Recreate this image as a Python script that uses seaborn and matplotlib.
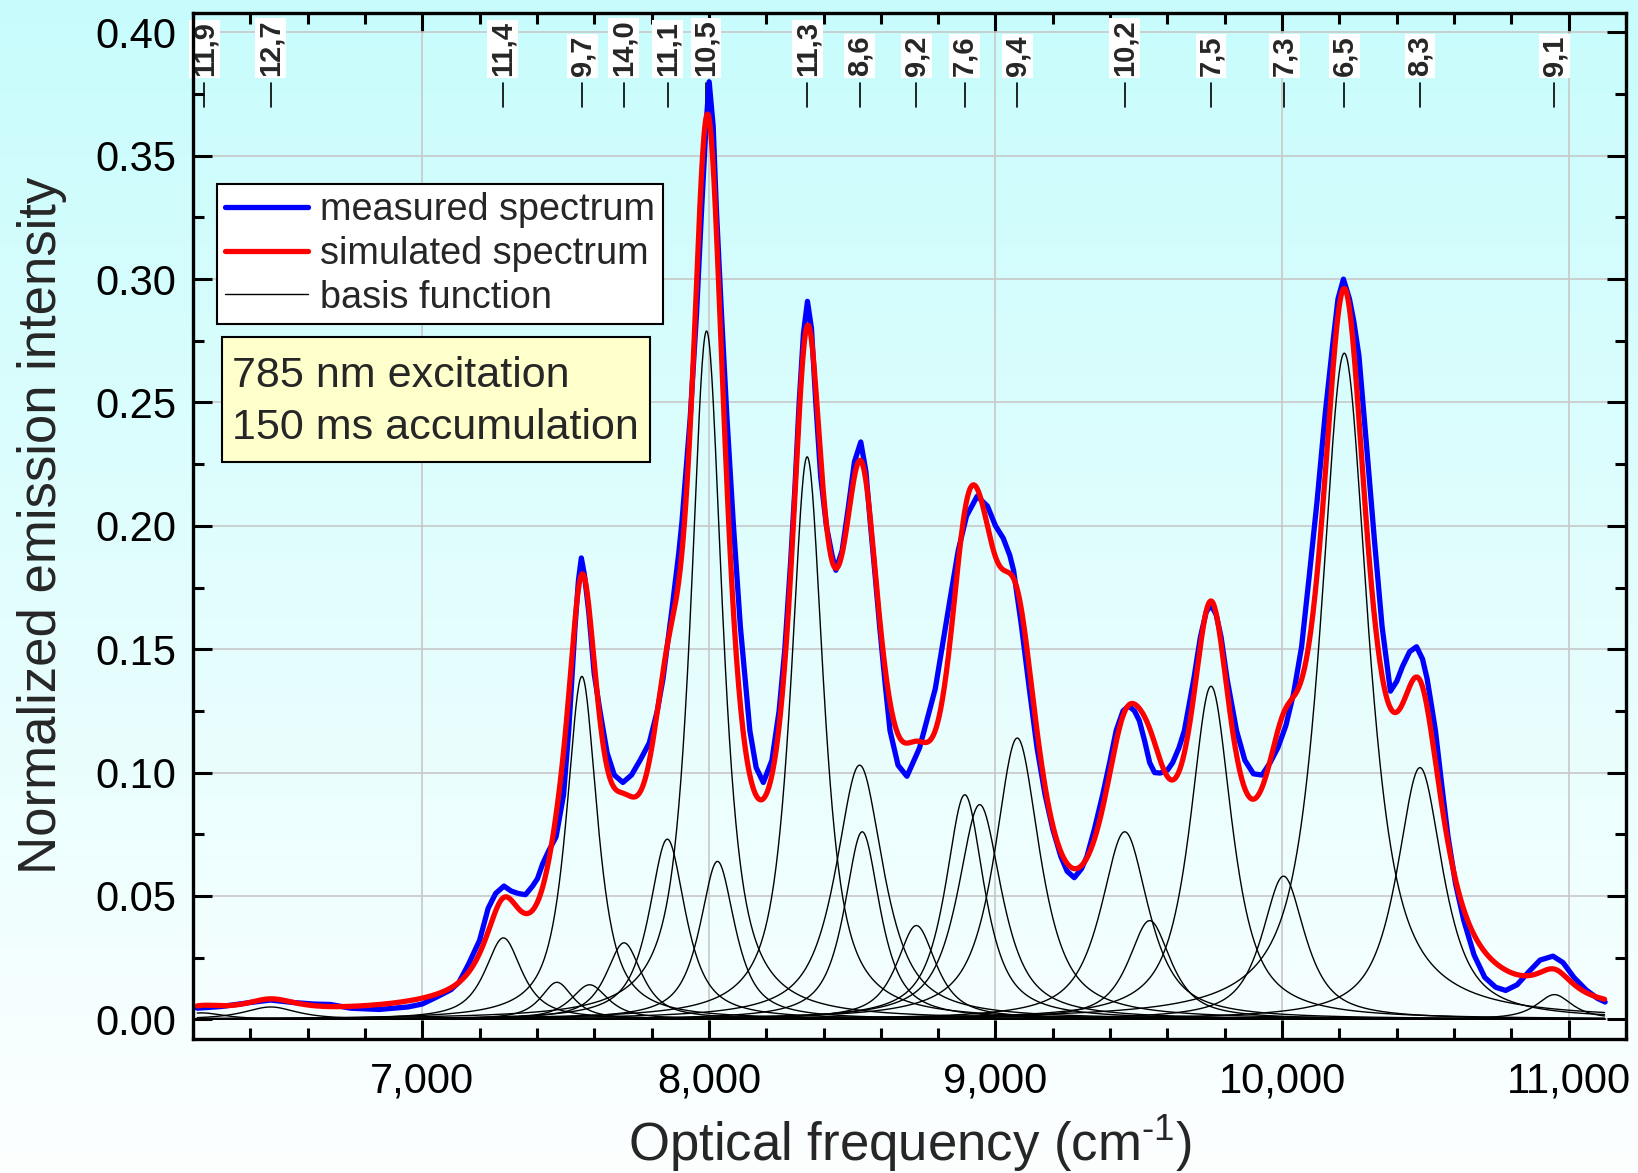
import numpy as np
import pandas as pd
import matplotlib
matplotlib.use("Agg")
import matplotlib.pyplot as plt
from matplotlib.colors import LinearSegmentedColormap
from matplotlib.lines import Line2D
from matplotlib.patches import Rectangle
from matplotlib.ticker import MultipleLocator, FuncFormatter
import seaborn as sns

# chirality labels along the top (n,m) and their positions (cm-1)
chirality_labels = ["11,9", "12,7", "11,4", "9,7", "14,0", "11,1", "10,5", "11,3", "8,6",
                    "9,2", "7,6", "9,4", "10,2", "7,5", "7,3", "6,5", "8,3", "9,1"]
chirality_pos = [6240, 6471, 7280, 7559, 7703, 7856, 7990, 8343, 8527,
                 8724, 8892, 9076, 9451, 9752, 10007, 10217, 10481, 10950]

# basis functions (pseudo-Voigt): centre (cm-1), height, FWHM (cm-1)
basis_center = [6230, 6471, 7283, 7470, 7557, 7584, 7704, 7855, 7992, 8030, 8343, 8526,
                8535, 8724, 8893, 8945, 9076, 9451, 9538, 9752, 10005, 10217, 10481, 10950]
basis_height = [0.0026, 0.0050, 0.033, 0.015, 0.139, 0.014, 0.031, 0.073, 0.279, 0.064,
                0.228, 0.103, 0.076, 0.038, 0.091, 0.087, 0.114, 0.076, 0.040, 0.135,
                0.058, 0.270, 0.102, 0.010]
basis_fwhm = [190, 220, 155, 135, 130, 155, 150, 153, 134, 147, 138, 200,
              150, 165, 163, 185, 190, 200, 178, 175, 180, 200, 192, 150]
lorentz_share = 0.85

# measured spectrum
measured_x = [6215, 6300, 6400, 6470, 6550, 6620, 6680, 6750, 6850, 6950, 7000, 7050, 7100,
              7128, 7160, 7200, 7230, 7256, 7285, 7310, 7335, 7360, 7385, 7402, 7420, 7440,
              7467, 7493, 7511, 7533, 7545, 7555, 7566, 7581, 7600, 7620, 7645, 7670, 7700,
              7730, 7760, 7792, 7820, 7840, 7870, 7895, 7906, 7935, 7957, 7975, 7990, 8001,
              8015, 8026, 8044, 8063, 8085, 8110, 8143, 8165, 8190, 8220, 8245, 8265, 8285,
              8300, 8315, 8330, 8344, 8358, 8373, 8390, 8410, 8430, 8443, 8465, 8486, 8508,
              8530, 8548, 8563, 8580, 8596, 8615, 8632, 8660, 8691, 8735, 8790, 8844, 8870,
              8899, 8936, 8972, 9000, 9027, 9050, 9063, 9090, 9118, 9145, 9173, 9200, 9228,
              9250, 9275, 9300, 9319, 9345, 9374, 9400, 9421, 9445, 9465, 9485, 9502, 9520,
              9538, 9555, 9575, 9600, 9618, 9640, 9659, 9692, 9715, 9735, 9752, 9770, 9787,
              9808, 9841, 9870, 9900, 9930, 9958, 9985, 10013, 10040, 10068, 10095, 10122,
              10150, 10177, 10195, 10214, 10235, 10250, 10268, 10295, 10323, 10349, 10378,
              10400, 10420, 10445, 10469, 10490, 10506, 10520, 10535, 10557, 10579, 10605,
              10634, 10670, 10707, 10745, 10780, 10820, 10861, 10900, 10945, 10980, 11018,
              11060, 11100, 11127]
measured_y = [0.0045, 0.0052, 0.0068, 0.0078, 0.0068, 0.0062, 0.0060, 0.0045, 0.0040, 0.0050,
              0.0062, 0.0090, 0.0120, 0.0150, 0.0220, 0.0320, 0.0450, 0.0510, 0.0540, 0.0520,
              0.0510, 0.0505, 0.0540, 0.0570, 0.0630, 0.0680, 0.0740, 0.0910, 0.1170, 0.1590,
              0.1780, 0.1870, 0.1800, 0.1650, 0.1400, 0.1250, 0.1080, 0.0990, 0.0960, 0.0990,
              0.1050, 0.1120, 0.1250, 0.1380, 0.1650, 0.1890, 0.2015, 0.2440, 0.2860, 0.3290,
              0.3620, 0.3800, 0.3620, 0.3290, 0.2860, 0.2440, 0.2015, 0.1590, 0.1170, 0.1020,
              0.0960, 0.1050, 0.1250, 0.1500, 0.1850, 0.2150, 0.2500, 0.2780, 0.2910, 0.2800,
              0.2500, 0.2200, 0.2000, 0.1880, 0.1820, 0.1900, 0.2070, 0.2260, 0.2340, 0.2220,
              0.2015, 0.1800, 0.1590, 0.1360, 0.1170, 0.1030, 0.0985, 0.1100, 0.1340, 0.1720,
              0.1900, 0.2040, 0.2120, 0.2080, 0.2000, 0.1950, 0.1880, 0.1820, 0.1600, 0.1340,
              0.1100, 0.0910, 0.0770, 0.0660, 0.0600, 0.0574, 0.0610, 0.0660, 0.0770, 0.0910,
              0.1050, 0.1170, 0.1250, 0.1270, 0.1250, 0.1210, 0.1130, 0.1040, 0.1000, 0.0998,
              0.1010, 0.1040, 0.1100, 0.1170, 0.1380, 0.1550, 0.1650, 0.1680, 0.1640, 0.1550,
              0.1380, 0.1170, 0.1050, 0.0995, 0.0990, 0.1040, 0.1100, 0.1190, 0.1320, 0.1510,
              0.1800, 0.2100, 0.2450, 0.2740, 0.2920, 0.3000, 0.2920, 0.2830, 0.2690, 0.2320,
              0.1930, 0.1590, 0.1330, 0.1370, 0.1430, 0.1490, 0.1510, 0.1460, 0.1380, 0.1280,
              0.1170, 0.0950, 0.0740, 0.0550, 0.0400, 0.0260, 0.0170, 0.0130, 0.0117, 0.0140,
              0.0193, 0.0240, 0.0256, 0.0230, 0.0170, 0.0120, 0.0085, 0.0070]


def pseudo_voigt(x, c, h, w, eta):
    d = (x - c) / (w / 2.0)
    return h * (eta / (1 + d ** 2) + (1 - eta) * np.exp(-np.log(2) * d ** 2))


sns.set_style("ticks")
plt.rcParams["font.family"] = ["Liberation Sans", "DejaVu Sans"]
plt.rcParams["mathtext.fontset"] = "custom"
plt.rcParams["mathtext.rm"] = "Liberation Sans"
plt.rcParams["mathtext.default"] = "regular"

xs = np.linspace(6215, 11125, 2000)
rows = []
for i, (c, h, w) in enumerate(zip(basis_center, basis_height, basis_fwhm)):
    rows.append(pd.DataFrame({"x": xs, "y": pseudo_voigt(xs, c, h, w, lorentz_share),
                              "peak": i}))
basis_df = pd.concat(rows, ignore_index=True)
sim_df = basis_df.groupby("x", as_index=False)["y"].sum()

fig = plt.figure(figsize=(16.38, 11.73), dpi=100)

# cyan-to-white background gradient
bg = fig.add_axes([0, 0, 1, 1], zorder=-10)
grad = np.linspace(0, 1, 256).reshape(-1, 1)
cmap = LinearSegmentedColormap.from_list("bg", ["#c8fcfc", "#fdffff"])
bg.imshow(grad, aspect="auto", cmap=cmap, extent=[0, 1, 0, 1])
bg.axis("off")

ax = fig.add_axes([0.1178, 0.1142, 0.8749, 0.875])
ax.set_facecolor("none")

sns.lineplot(data=basis_df, x="x", y="y", units="peak", estimator=None,
             color="black", lw=1.0, ax=ax, zorder=3)
sns.lineplot(x=measured_x, y=measured_y, color="#0000ff", lw=3.8, ax=ax, zorder=4,
             solid_joinstyle="round")
sns.lineplot(data=sim_df, x="x", y="y", color="#ff0000", lw=3.8, ax=ax, zorder=5)

ax.set_xlim(6200, 11200)
ax.set_ylim(-0.008, 0.408)
ax.xaxis.set_major_locator(MultipleLocator(1000))
ax.xaxis.set_minor_locator(MultipleLocator(200))
ax.yaxis.set_major_locator(MultipleLocator(0.05))
ax.yaxis.set_minor_locator(MultipleLocator(0.025))
ax.xaxis.set_major_formatter(FuncFormatter(lambda v, p: f"{int(v):,}"))
ax.yaxis.set_major_formatter(FuncFormatter(lambda v, p: f"{v:.2f}"))

ax.grid(True, which="major", color="#c8c8c8", lw=1.2)
ax.set_axisbelow(True)
for s in ax.spines.values():
    s.set_linewidth(2.4)
    s.set_color("black")
    s.set_zorder(6)
ax.tick_params(which="both", direction="in", top=True, right=True, width=2.2,
               labelsize=30, colors="black")
ax.tick_params(which="major", length=14)
ax.tick_params(which="minor", length=8)
ax.tick_params(axis="x", pad=16)
ax.tick_params(axis="y", pad=12)

ax.set_xlabel("Optical frequency (cm$^{\u20101}$)", fontsize=38, labelpad=8.5)
ax.set_ylabel("Normalized emission intensity", fontsize=38, labelpad=20)

# chirality labels and markers at the top
trans = ax.get_xaxis_transform()
for lab, pos in zip(chirality_labels, chirality_pos):
    ax.text(pos, 0.938, lab, rotation=90, ha="center", va="bottom", fontsize=21,
            fontweight="bold", transform=trans, zorder=2,
            bbox=dict(boxstyle="square,pad=0.05", fc="white", ec="none"))
    ax.plot([pos, pos], [0.908, 0.9315], color="black", lw=1.2, transform=trans, zorder=2)

handles = [Line2D([], [], color="#0000ff", lw=3.8),
           Line2D([], [], color="#ff0000", lw=3.8),
           Line2D([], [], color="black", lw=1.0)]
leg = ax.legend(handles, ["measured spectrum", "simulated spectrum", "basis function"],
                loc="upper left", bbox_to_anchor=(0.0165, 0.833), borderaxespad=0,
                fontsize=27.3, frameon=True, fancybox=False, edgecolor="black",
                framealpha=1, handlelength=2.2, handletextpad=0.3, labelspacing=0.2,
                borderpad=0.22)
leg.get_frame().set_linewidth(1.5)
leg.set_zorder(7)

# yellow annotation box
ax.add_patch(Rectangle((0.0206, 0.5625), 0.2981, 0.1211, transform=ax.transAxes,
                       fc="#ffffcc", ec="black", lw=1.5, zorder=7))
ax.text(0.0272, 0.6207, "785 nm excitation\n150 ms accumulation", transform=ax.transAxes,
        fontsize=31, ha="left", va="center", zorder=8, linespacing=1.4)

fig.savefig("out.png", dpi=100)
